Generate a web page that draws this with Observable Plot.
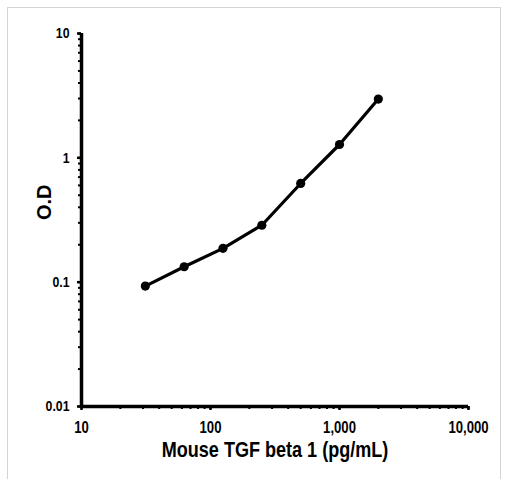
<!DOCTYPE html>
<html>
<head>
<meta charset="utf-8">
<script src="https://cdn.jsdelivr.net/npm/d3@7"></script>
<script src="https://cdn.jsdelivr.net/npm/@observablehq/plot@0.6"></script>
<style>
  html, body { margin: 0; padding: 0; background: #fff; }
  #wrap { position: relative; width: 506px; height: 479px; overflow: hidden; }
  #frame { position: absolute; left: 7px; top: 7px; width: 494px; height: 490px; border: 1px solid #d4d4d4; box-sizing: border-box; }
  #chart { position: absolute; left: 0; top: 0; }
</style>
</head>
<body>
<div id="wrap"><div id="frame"></div><div id="chart"></div></div>
<script>
const concentration = [31.25, 62.5, 125, 250, 500, 1000, 2000];
const od = [0.093, 0.133, 0.187, 0.287, 0.622, 1.28, 2.97];
const xTickValues = [10, 100, 1000, 10000];
const yTickValues = [0.01, 0.1, 1, 10];
const xLabel = "Mouse TGF beta 1 (pg/mL)";
const yLabel = "O.D";

const data = concentration.map((c, i) => ({c, od: od[i]}));
const xDomain = [10, 10000];
const yDomain = [0.01, 10];
const xMinor = d3.scaleLog().domain(xDomain).ticks();
const yMinor = d3.scaleLog().domain(yDomain).ticks();
const fmtX = d3.format(",");
const fmtY = d => String(d);
const font = "'Liberation Sans', Arial, sans-serif";

const chart = Plot.plot({
  width: 506,
  height: 479,
  marginLeft: 81,
  marginRight: 38,
  marginTop: 33,
  marginBottom: 73,
  style: {fontFamily: font, fontWeight: "bold", fontSize: "16px", background: "transparent", color: "#000"},
  x: {type: "log", domain: xDomain},
  y: {type: "log", domain: yDomain},
  marks: [
    Plot.axisX(xMinor, {tickSize: 3, strokeWidth: 2, text: null, label: null}),
    Plot.axisY(yMinor, {tickSize: 3, strokeWidth: 2, text: null, label: null}),
    Plot.axisX(xTickValues, {tickSize: 4, strokeWidth: 2.5, tickPadding: 11, tickFormat: fmtX, fontSize: 16, label: null}),
    Plot.axisY(yTickValues, {tickSize: 4, strokeWidth: 2.5, tickPadding: 8, tickFormat: fmtY, fontSize: 15, label: null}),
    Plot.ruleX([10], {y1: 0.01, y2: 10, strokeWidth: 3.5}),
    Plot.ruleY([0.01], {x1: 10, x2: 10000, strokeWidth: 3.5}),
    Plot.line(data, {x: "c", y: "od", stroke: "#000", strokeWidth: 3.2}),
    Plot.dot(data, {x: "c", y: "od", r: 4.6, fill: "#000", stroke: "none"}),
    Plot.text([xLabel], {frameAnchor: "bottom", dy: 50, fontSize: 22, fontWeight: "bold", fill: "#000"}),
    Plot.text([yLabel], {frameAnchor: "left", dx: -37, rotate: -90, fontSize: 20, fontWeight: "bold", fill: "#000"})
  ]
});
document.getElementById("chart").appendChild(chart);
// narrow the glyphs horizontally to mimic the condensed font of the reference
chart.querySelectorAll("text").forEach(t => {
  if (t.textContent === yLabel) return;
  const w = t.getComputedTextLength();
  if (w > 0) {
    t.setAttribute("textLength", (w * 0.82).toFixed(2));
    t.setAttribute("lengthAdjust", "spacingAndGlyphs");
  }
});
</script>
</body>
</html>
